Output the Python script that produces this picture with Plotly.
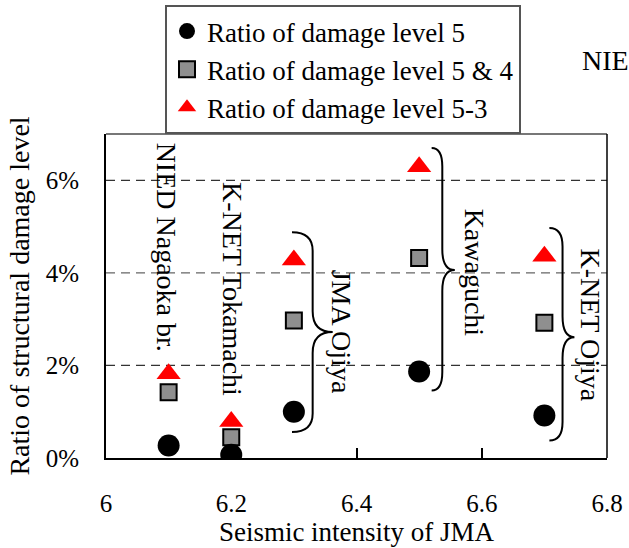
import plotly.graph_objects as go

# ---- data ----
intensity = [6.1, 6.2, 6.3, 6.5, 6.7]
level5 = [0.27, 0.07, 1.0, 1.87, 0.92]
level54 = [1.42, 0.45, 2.97, 4.32, 2.92]
level53 = [1.82, 0.79, 4.28, 6.29, 4.36]
series_names = ["Ratio of damage level 5", "Ratio of damage level 5 & 4", "Ratio of damage level 5-3"]

x_ticks = [6.0, 6.2, 6.4, 6.6, 6.8]
x_tick_labels = ["6", "6.2", "6.4", "6.6", "6.8"]
y_ticks = [0, 2, 4, 6]
y_tick_labels = ["0%", "2%", "4%", "6%"]

# station labels (rotated text)
station_names = ["NIED Nagaoka br.", "K-NET Tokamachi", "JMA Ojiya", "Kawaguchi", "K-NET Ojiya"]
station_label_x = [6.097, 6.203, 6.376, 6.588, 6.774]
station_label_y = [4.55, 3.65, 2.72, 4.0, 2.87]

# braces: (x_start, x_line, x_tip, y_top, y_mid, y_bottom)
braces = [
    (6.297, 6.330, 6.362, 4.88, 2.72, 0.56),
    (6.520, 6.537, 6.557, 6.70, 4.06, 1.46),
    (6.708, 6.729, 6.748, 4.97, 2.61, 0.38),
]

FONT = "Liberation Serif"

fig = go.Figure()

fig.add_trace(go.Scatter(
    x=intensity, y=level54, mode="markers", name=series_names[1], legendrank=2,
    marker=dict(symbol="square", size=16, color="#8f8f8f", line=dict(color="black", width=2)),
))
fig.add_trace(go.Scatter(
    x=intensity, y=level53, mode="markers", name=series_names[2], legendrank=3,
    marker=dict(symbol="triangle-up", size=21, color="#ff0000", line=dict(width=0)),
))
fig.add_trace(go.Scatter(
    x=intensity, y=level5, mode="markers", name=series_names[0], legendrank=1,
    marker=dict(symbol="circle", size=22, color="black", line=dict(width=0)),
))

# braces as paths
def brace_path(x0, x1, x2, yt, ym, yb):
    r = 0.4
    rm = 0.45
    return (f"M {x0},{yt} Q {x1},{yt} {x1},{yt - r} "
            f"L {x1},{ym + rm} Q {x1},{ym} {x2},{ym} "
            f"Q {x1},{ym} {x1},{ym - rm} "
            f"L {x1},{yb + r} Q {x1},{yb} {x0},{yb}")

shapes = []
for b in braces:
    shapes.append(dict(type="path", xref="x", yref="y", path=brace_path(*b),
                       line=dict(color="black", width=2)))
# dashed grid lines
for yv in [2, 4, 6]:
    shapes.append(dict(type="line", xref="paper", yref="y", x0=0, x1=1, y0=yv, y1=yv,
                       line=dict(color="#333" if yv != 4 else "#666", width=1.2, dash="9px,6px"), layer="below"))
# top (grey) and right frame
shapes.append(dict(type="line", xref="paper", yref="paper", x0=0, x1=1, y0=1, y1=1,
                   line=dict(color="#777", width=2)))
shapes.append(dict(type="line", xref="paper", yref="paper", x0=1, x1=1, y0=0, y1=1,
                   line=dict(color="black", width=1.5)))

annotations = []
for name, lx, ly in zip(station_names, station_label_x, station_label_y):
    annotations.append(dict(x=lx, y=ly, xref="x", yref="y", text=name, showarrow=False,
                            textangle=90, font=dict(family=FONT, size=28, color="black")))
# text fragment at the right edge outside the plot (visible part only)
annotations.append(dict(x=(580 - 106) / 501, y=(458 - 60) / 324, xref="paper", yref="paper",
                        text="NIE", showarrow=False, xanchor="left", yanchor="middle",
                        font=dict(family=FONT, size=28, color="black")))

fig.update_layout(
    width=629, height=548,
    margin=dict(l=106, r=22, t=134, b=90, autoexpand=False),
    paper_bgcolor="white", plot_bgcolor="white",
    font=dict(family=FONT, size=25, color="black"),
    showlegend=True,
    legend=dict(x=(165 - 106) / 501, y=(458 - 5) / 324, xanchor="left", yanchor="top",
                bordercolor="#555", borderwidth=2, bgcolor="white",
                font=dict(family=FONT, size=27, color="black"), tracegroupgap=0),
    xaxis=dict(range=[6.0, 6.8], tickvals=x_ticks, ticktext=x_tick_labels,
               showgrid=False, zeroline=False, showline=True, linecolor="black", linewidth=2,
               ticks="inside", ticklen=10, tickwidth=1.5, tickcolor="black",
               ticklabelstandoff=22, tickfont=dict(family=FONT, size=25),
               title=dict(text="Seismic intensity of JMA", font=dict(family=FONT, size=27), standoff=0)),
    yaxis=dict(range=[0, 7.0], tickvals=y_ticks, ticktext=y_tick_labels,
               showgrid=False, zeroline=False, showline=True, linecolor="black", linewidth=2,
               ticks="", ticklabelstandoff=20, tickfont=dict(family=FONT, size=25),
               title=dict(text="Ratio of structural damage level", font=dict(family=FONT, size=28), standoff=8)),
    shapes=shapes,
    annotations=annotations,
)

fig.write_html("out.html")
